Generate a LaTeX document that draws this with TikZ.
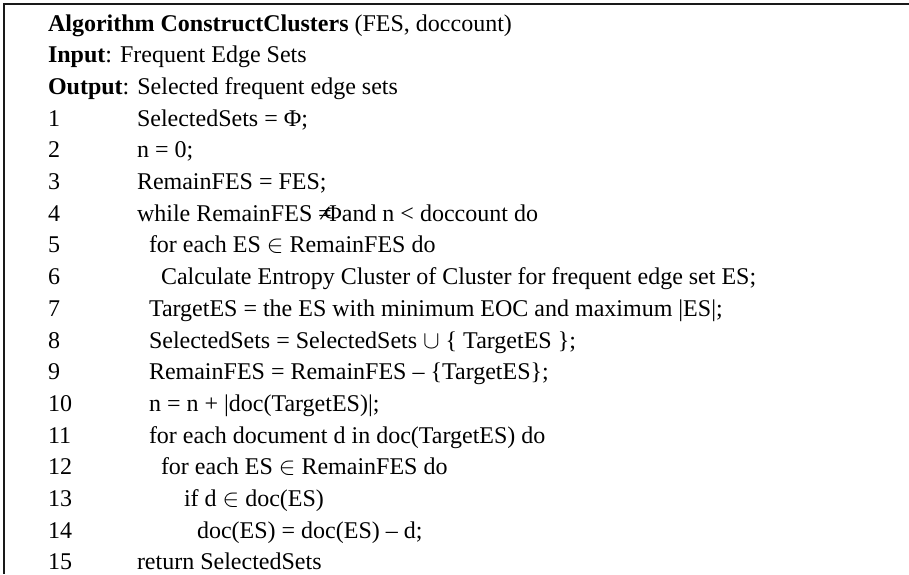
\documentclass[tikz,border=0pt]{standalone}
\usepackage{fontspec}
\setmainfont{Liberation Serif}
\tikzset{
  algtext/.style={anchor=base west, inner sep=0pt, outer sep=0pt,
    font=\fontsize{24}{28}\selectfont},
  frameline/.style={line width=2.4pt, black!90}
}
\newcommand{\elem}{\ensuremath{\in}}
\newcommand{\unite}{\ensuremath{\cup}}
\begin{document}
\begin{tikzpicture}[x=1pt,y=-1pt]
  \useasboundingbox (0,0) rectangle (909,574);
  % frame: top rule and left rule
  \draw[frameline] (909,4) -- (4,4) -- (4,574);
  % header
  \def\lh{31.7}
  \def\nx{48}
  \node[algtext] (title) at (\nx,31) {\textbf{Algorithm ConstructClusters} (FES, doccount)};
  \node[algtext] (input) at (\nx,31+\lh) {\textbf{Input}: Frequent Edge Sets};
  \node[algtext] (output) at (\nx,31+2*\lh) {\textbf{Output}: Selected frequent edge sets};
  % line numbers and code lines (number / indent x / text)
  \foreach \k/\ix/\txt in {
    1/137/{SelectedSets = Φ;},
    2/137/{n = 0;},
    3/137/{RemainFES = FES;},
    4/137/{while RemainFES ≠\kern-0.3em Φand n < doccount do},
    5/149/{for each ES \elem\ RemainFES do},
    6/161/{Calculate Entropy Cluster of Cluster for frequent edge set ES;},
    7/149/{TargetES = the ES with minimum EOC and maximum |ES|;},
    8/149/{SelectedSets = SelectedSets \unite\ \{ TargetES \};},
    9/149/{RemainFES = RemainFES – \{TargetES\};},
    10/149/{n = n + |doc(TargetES)|;},
    11/149/{for each document d in doc(TargetES) do},
    12/161/{for each ES \elem\ RemainFES do},
    13/184/{if d \elem\ doc(ES)},
    14/197/{doc(ES) = doc(ES) – d;},
    15/137/{return SelectedSets}}{
    \node[algtext] (num\k) at (\nx,31+\k*\lh+2*\lh) {\k};
    \node[algtext] (code\k) at (\ix,31+\k*\lh+2*\lh) {\txt};
  }
\end{tikzpicture}
\end{document}
